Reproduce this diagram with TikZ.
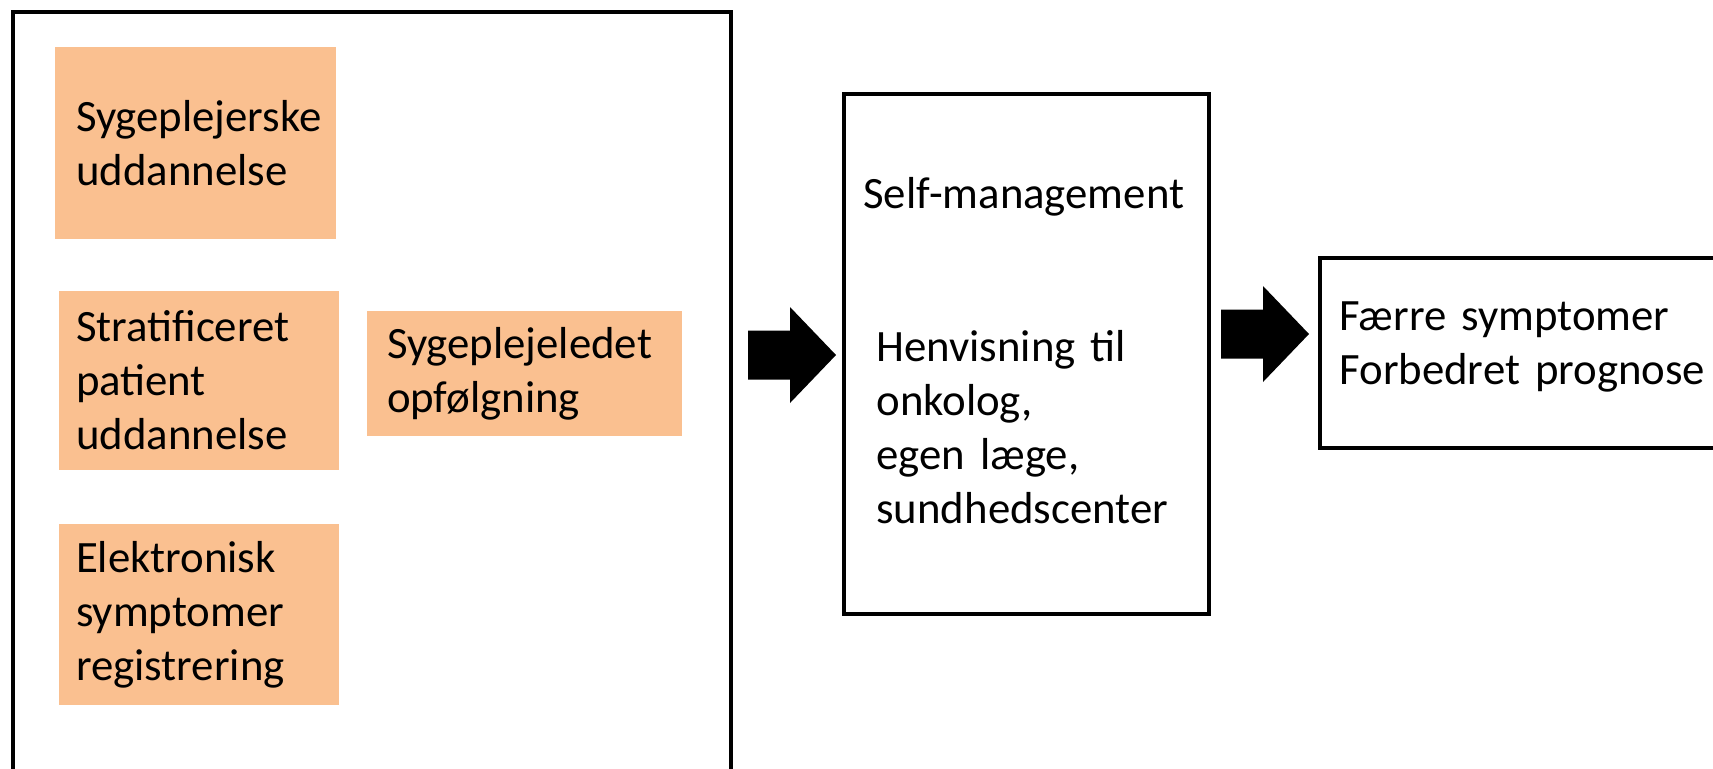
\documentclass[tikz,border=0pt]{standalone}
\usepackage{fontspec}
\setmainfont{Carlito}
\definecolor{peach}{HTML}{FAC090}
\tikzset{
  boxline/.style={draw, line width=2.4pt, inner sep=0pt},
  peachbox/.style={fill=peach, text width=#1, align=left, inner xsep=8.5pt, inner ysep=0pt},
  txt/.style={inner sep=0pt, align=left, text width=#1},
  txt/.default=200pt,
  fatarrow/.pic={\fill (0,-24.5) -- (42,-24.5) -- (42,-48) -- (88,0) -- (42,48) -- (42,24.5) -- (0,24.5) -- cycle;}
}
\begin{document}
\begin{tikzpicture}[x=0.5pt, y=-0.5pt, font=\fontsize{22.4}{27}\selectfont]
  \useasboundingbox (0,0) rectangle (1713,768);
  \clip (0,0) rectangle (1713,768);
  \node[boxline, minimum width=359pt, minimum height=404pt] (outer) at (372,416) {};
  \node[peachbox=119.5pt, inner xsep=10.5pt, minimum height=96pt] (nurse) at (195.5,143) {Sygeplejerske\\uddannelse};
  \node[peachbox=123pt, minimum height=89.5pt] (patient) at (199,380.5) {Stratificeret\\patient\\uddannelse};
  \node[peachbox=123pt, minimum height=90.5pt] (esym) at (199,614.5) {Elektronisk\\symptomer\\registrering};
  \node[peachbox=137.5pt, inner xsep=10pt, minimum height=62.5pt] (follow) at (524.5,373.5) {Sygeplejeledet\\opfølgning};
  \pic at (748,355) {fatarrow};
  \node[boxline, minimum width=182.5pt, minimum height=260pt] (selfbox) at (1026.5,354) {};
  \node[txt, anchor=base west] (selfm) at (863,208) {Self-management};
  \node[txt=150pt, anchor=base west] (henv) at (876,361) {Henvisning til\\onkolog,\\egen læge,\\sundhedscenter};
  \pic at (1221,334) {fatarrow};
  \node[boxline, minimum width=240pt, minimum height=95pt] (result) at (1560,353) {};
  \node[txt, anchor=base west] (effect) at (1339,330) {Færre symptomer\\Forbedret prognose};
\end{tikzpicture}
\end{document}
